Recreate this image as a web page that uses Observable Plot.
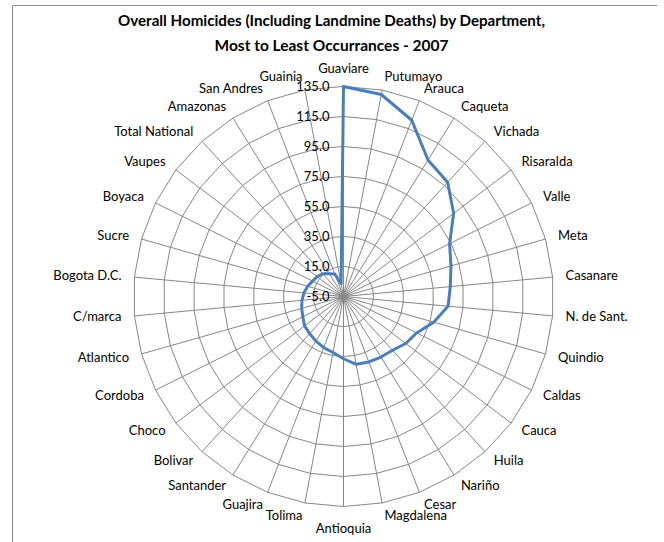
<!DOCTYPE html>
<html><head><meta charset="utf-8">
<script src="https://cdn.jsdelivr.net/npm/d3@7"></script>
<script src="https://cdn.jsdelivr.net/npm/@observablehq/plot@0.6"></script>
<style>
html,body{margin:0;padding:0;background:#fff;}
#wrap{position:relative;width:664px;height:542px;overflow:hidden;}
#wrap svg{position:absolute;left:0;top:0;}
</style></head><body><div id="wrap"></div>
<script>
const categories = ["Guaviare","Putumayo","Arauca","Caqueta","Vichada","Risaralda","Valle","Meta","Casanare","N. de Sant.","Quindio","Caldas","Cauca","Huila","Nariño","Cesar","Magdalena","Antioquia","Tolima","Guajira","Santander","Bolivar","Choco","Cordoba","Atlantico","C/marca","Bogota D.C.","Sucre","Boyaca","Vaupes","Total National","Amazonas","San Andres","Guainia"];
const values = [135, 132, 121, 102, 98, 87, 74, 69.5, 66.5, 65, 57.5, 49.5, 47, 43.5, 42.5, 41.8, 41, 36.5, 33, 31.5, 30, 28.5, 27.5, 25.3, 24, 22.8, 21.5, 19.8, 18, 17, 15.5, 12.8, 11, 3.7];
const tickValues = [-5, 15, 35, 55, 75, 95, 115, 135];
const tickLabels = ["-5.0", "15.0", "35.0", "55.0", "75.0", "95.0", "115.0", "135.0"];
const titleLines = ["Overall Homicides (Including Landmine Deaths) by Department,", "Most to Least Occurrances - 2007"];

const rMin = tickValues[0], rMax = tickValues[tickValues.length - 1];
const n = categories.length;
const ang = i => i * 2 * Math.PI / n;
const data = categories.map((c, i) => ({category: c, value: values[i], i}));

const W = 664, H = 542, cx = 343, cy = 296, k = 1.5;
const labelR = 223 / k;
const px = (r, i) => r * Math.sin(ang(i));
const py = (r, i) => r * Math.cos(ang(i));

const rings = tickValues.filter(t => t > rMin).flatMap(t => categories.map((c, i) => ({t, i})));
const gridColor = "#868686";

const lx = d => px(labelR, d.i), ly = d => py(labelR, d.i);

const chart = Plot.plot({
  width: W, height: H, margin: 0,
  x: {domain: [-cx / k, (W - cx) / k], axis: null},
  y: {domain: [(cy - H) / k, cy / k], axis: null},
  style: {fontFamily: "Lato, 'Open Sans', sans-serif", fontSize: "13px", color: "#000", background: "transparent"},
  marks: [
    Plot.link(data, {x1: () => 0, y1: () => 0, x2: d => px(rMax - rMin, d.i), y2: d => py(rMax - rMin, d.i), stroke: gridColor, strokeWidth: 1}),
    Plot.line(rings, {x: d => px(d.t - rMin, d.i), y: d => py(d.t - rMin, d.i), z: "t", curve: "linear-closed", stroke: gridColor, strokeWidth: 1}),
    Plot.line(data, {x: d => px(d.value - rMin, d.i), y: d => py(d.value - rMin, d.i), curve: "linear-closed", stroke: "#4a7ebb", strokeWidth: 3, strokeLinejoin: "round"}),
    Plot.text(tickValues, {x: () => 0, y: d => d - rMin, text: (d, i) => tickLabels[i], textAnchor: "end", dx: -14, fill: "#000", fontSize: 13}),
    Plot.text(data, {filter: d => Math.sin(ang(d.i)) > 0.01, x: lx, y: ly, text: "category", textAnchor: "start", fill: "#000"}),
    Plot.text(data, {filter: d => Math.sin(ang(d.i)) < -0.01, x: lx, y: ly, text: "category", textAnchor: "end", fill: "#000"}),
    Plot.text(data, {filter: d => Math.abs(Math.sin(ang(d.i))) <= 0.01 && Math.cos(ang(d.i)) > 0, x: lx, y: ly, text: "category", textAnchor: "middle", lineAnchor: "bottom", dy: -1, fill: "#000"}),
    Plot.text(data, {filter: d => Math.abs(Math.sin(ang(d.i))) <= 0.01 && Math.cos(ang(d.i)) < 0, x: lx, y: ly, text: "category", textAnchor: "middle", lineAnchor: "top", dy: 4, fill: "#000"})
  ]
});
const wrap = document.getElementById("wrap");
wrap.appendChild(chart);

// frame and title overlay
const ov = d3.select(wrap).append("svg").attr("width", W).attr("height", H);
ov.append("line").attr("x1", 12.5).attr("x2", 657).attr("y1", 5.5).attr("y2", 5.5).attr("stroke", "#8c8c8c");
ov.append("line").attr("x1", 12.5).attr("x2", 12.5).attr("y1", 5.5).attr("y2", H).attr("stroke", "#8c8c8c");
const tl = [{x: 331.5, y: 26, w: 427}, {x: 331.5, y: 51, w: 234}];
titleLines.forEach((t, j) => {
  ov.append("text").attr("x", tl[j].x).attr("y", tl[j].y).attr("text-anchor", "middle")
    .attr("font-family", "Lato, 'Open Sans', sans-serif").attr("font-weight", "bold").attr("font-size", 16)
    .attr("textLength", tl[j].w).attr("lengthAdjust", "spacingAndGlyphs").text(t);
});
</script></body></html>
